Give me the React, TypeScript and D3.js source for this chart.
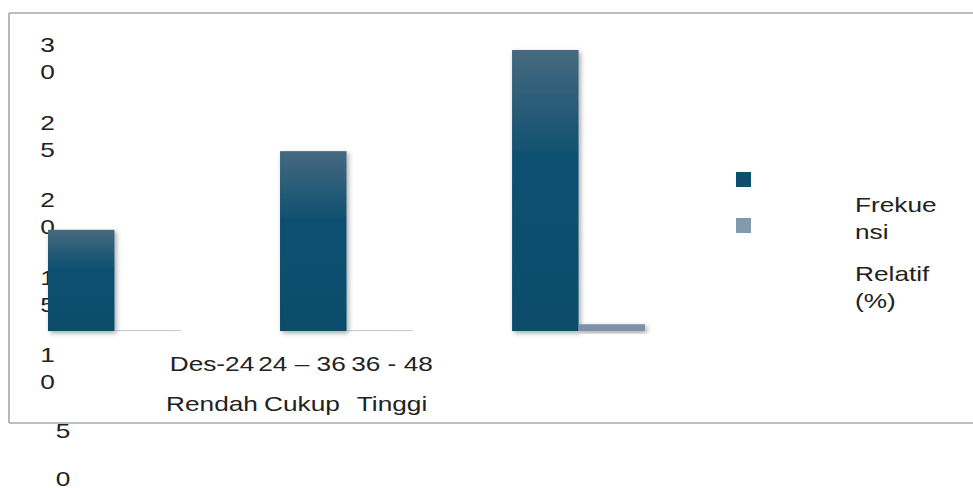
import React from "react";
import * as d3 from "d3";

// Kategori usia (bulan) dan tingkatnya
const categories = ["Des-24", "24 – 36", "36 - 48"];
const levels = ["Rendah", "Cukup", "Tinggi"];
const seriesNames = ["Frekuensi", "Relatif (%)"];
const frekuensi = [9, 16, 25];
const relatif = [0.04, 0.04, 0.6];
const yTicks = [30, 25, 20, 15, 10, 5, 0];
const legendLines = [["Frekue", "nsi"], ["Relatif", "(%)"]];

const W = 973;
const H = 488;
const FONT = "'Liberation Sans', Arial, sans-serif";
const FS = 21;
const SX = 1.25;
const TEXT = "#222";

export default function App() {
  const x = d3
    .scaleBand<string>()
    .domain(categories)
    .range([9, 684])
    .paddingInner(0.427)
    .paddingOuter(0.168);
  const xs = d3.scaleBand<string>().domain(seriesNames).range([0, x.bandwidth()]);
  const y = d3.scaleLinear().domain([0, d3.max(frekuensi) as number]).range([331, 50]);

  // posisi baris pertama tiap label sumbu Y (label terbungkus per digit)
  const tickY = d3.scaleLinear().domain([0, 5, 10, 30]).range([486, 438, 362, 52]);
  const lineH = 27;

  // label kategori yang berdempetan di bawah plot
  const labelX = d3.scaleBand<string>().domain(categories).range([167, 437]);

  const series = [
    { name: seriesNames[0], values: frekuensi, fill: "url(#gFrek)" },
    { name: seriesNames[1], values: relatif, fill: "#7b91a8" },
  ];
  const legendColors = ["#0b4e6e", "#8299ae"];

  const txt = (key: string, s: string, tx: number, ty: number, anchor = "start") => (
    <text
      key={key}
      transform={`translate(${tx},${ty}) scale(${SX},1)`}
      textAnchor={anchor}
      fontFamily={FONT}
      fontSize={FS}
      fill={TEXT}
    >
      {s}
    </text>
  );

  return (
    <svg
      width={W}
      height={H}
      style={{ position: "absolute", left: 0, top: 0, background: "#fff" }}
    >
      <defs>
        <linearGradient id="gFrek" x1="0" y1="0" x2="0" y2="1">
          <stop offset="0%" stopColor="#46697f" />
          <stop offset="38%" stopColor="#0f5070" />
          <stop offset="100%" stopColor="#0a4c6b" />
        </linearGradient>
        <filter id="shadow" x="-30%" y="-30%" width="160%" height="160%">
          <feDropShadow dx="2" dy="2" stdDeviation="2.5" floodColor="#000" floodOpacity="0.35" />
        </filter>
      </defs>

      {/* bingkai area grafik */}
      <g stroke="#a8a8a8" strokeWidth={1.6} fill="none">
        <line x1={9} y1={13} x2={W} y2={13} />
        <line x1={9} y1={13} x2={9} y2={423} />
        <line x1={9} y1={423} x2={W} y2={423} />
      </g>

      {/* label sumbu Y */}
      {yTicks.map((t) => {
        const chars = String(t).split("");
        const cx = chars.length > 1 ? 47.5 : 63;
        return (
          <g key={`yt-${t}`}>
            {chars.map((c, i) => txt(`yt-${t}-${i}`, c, cx, tickY(t) + i * lineH, "middle"))}
          </g>
        );
      })}

      {/* batang */}
      {series.map((s) =>
        categories.map((c, i) => {
          const v = s.values[i];
          const x0 = (x(c) as number) + (xs(s.name) as number);
          return (
            <rect
              key={`${s.name}-${c}`}
              x={x0}
              y={y(v)}
              width={xs.bandwidth()}
              height={y(0) - y(v)}
              fill={s.fill}
              filter="url(#shadow)"
            />
          );
        })
      )}

      {/* label kategori */}
      {categories.map((c) => txt(`c-${c}`, c, (labelX(c) as number) + labelX.bandwidth() / 2, 371, "middle"))}
      {levels.map((l, i) =>
        txt(`l-${l}`, l, (labelX(categories[i]) as number) + labelX.bandwidth() / 2, 411, "middle")
      )}

      {/* legenda */}
      {seriesNames.map((n, i) => (
        <rect key={`lg-${n}`} x={736} y={172 + i * 46} width={15} height={15} fill={legendColors[i]} />
      ))}
      {legendLines.map((lines, i) =>
        lines.map((ln, j) => txt(`lt-${i}-${j}`, ln, 855, 212 + i * 69 + j * lineH))
      )}
    </svg>
  );
}
